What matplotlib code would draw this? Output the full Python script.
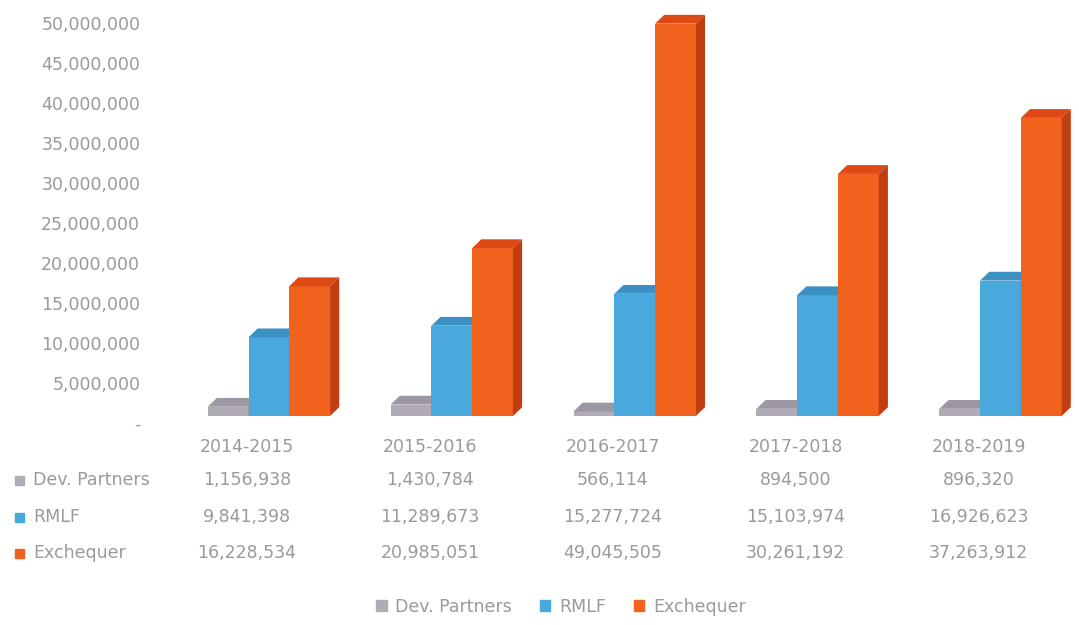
import numpy as np
import matplotlib.pyplot as plt
from matplotlib.patches import Polygon, Rectangle, Patch
from matplotlib.transforms import blended_transform_factory, ScaledTranslation
from matplotlib.ticker import FuncFormatter

years = ['2014-2015', '2015-2016', '2016-2017', '2017-2018', '2018-2019']
series = ['Dev. Partners', 'RMLF', 'Exchequer']
dev_partners = [1156938, 1430784, 566114, 894500, 896320]
rmlf = [9841398, 11289673, 15277724, 15103974, 16926623]
exchequer = [16228534, 20985051, 49045505, 30261192, 37263912]

# front / top / side shades for the fake 3d look
front = ['#b1abb5', '#4aa9dc', '#f1621d']
top = ['#9d97a3', '#3d90c4', '#de4a16']
side = ['#8e8894', '#3580b0', '#c23d10']
txt = '#9a9a9a'

W, H = 1079, 625
fig = plt.figure(figsize=(W / 100, H / 100), dpi=100)
ax = fig.add_axes([155.5 / W, (H - 416) / H, (1070 - 155.5) / W, (416 - 16) / H])
ax.set_xlim(-0.5, 4.5)
ax.set_ylim(0, 50e6)

bw = 0.223
shift = 0.12
dx = 0.05
dy = 1.1e6

x = np.arange(len(years))
for k, vals in enumerate([dev_partners, rmlf, exchequer]):
    pos = x + shift + (k - 1) * bw
    ax.bar(pos, vals, width=bw, color=front[k], linewidth=0, zorder=2)
    for p, v in zip(pos, vals):
        x0, x1 = p - bw / 2, p + bw / 2
        ax.add_patch(Polygon([(x0, v), (x0 + dx, v + dy), (x1 + dx, v + dy), (x1, v)],
                             closed=True, color=top[k], lw=0, zorder=2, clip_on=False))
        ax.add_patch(Polygon([(x1, 0), (x1 + dx, dy), (x1 + dx, v + dy), (x1, v)],
                             closed=True, color=side[k], lw=0, zorder=2, clip_on=False))

ax.set_yticks(np.arange(0, 50e6 + 1, 5e6))
ax.yaxis.set_major_formatter(FuncFormatter(lambda v, _: '-' if v == 0 else f'{v:,.0f}'))
ax.tick_params(axis='y', length=0, labelsize=12.5, labelcolor=txt, pad=11)
# labels sit a little lower than the bar faces in the original
down = ScaledTranslation(0, -7 / 100, fig.dpi_scale_trans)
for lab in ax.get_yticklabels():
    lab.set_transform(lab.get_transform() + down)
ax.set_xticks([])
for s in ax.spines.values():
    s.set_visible(False)

# data table under the chart
tr = blended_transform_factory(ax.transData, fig.transFigure)
for i, yr in enumerate(years):
    fig.text(i, 1 - 447 / H, yr, transform=tr, ha='center', va='center', fontsize=12.5, color=txt)

row_y = [480, 517, 553]
for k, (name, vals) in enumerate(zip(series, [dev_partners, rmlf, exchequer])):
    yy = 1 - row_y[k] / H
    fig.patches.append(Rectangle((15 / W, yy - 4.5 / H), 9 / W, 9 / H,
                                 transform=fig.transFigure, color=front[k], figure=fig))
    fig.text(33 / W, yy, name, ha='left', va='center', fontsize=12.5, color=txt)
    for i, v in enumerate(vals):
        fig.text(i, yy, f'{v:,}', transform=tr, ha='center', va='center', fontsize=12.5, color=txt)

handles = [Patch(color=c) for c in front]
fig.legend(handles, series, loc='center', bbox_to_anchor=(561 / W, 1 - 607 / H), ncol=3,
           frameon=False, fontsize=12.5, labelcolor=txt, handlelength=0.6, handleheight=0.6,
           handletextpad=0.5, columnspacing=1.6)

fig.savefig('out.png', dpi=100)
